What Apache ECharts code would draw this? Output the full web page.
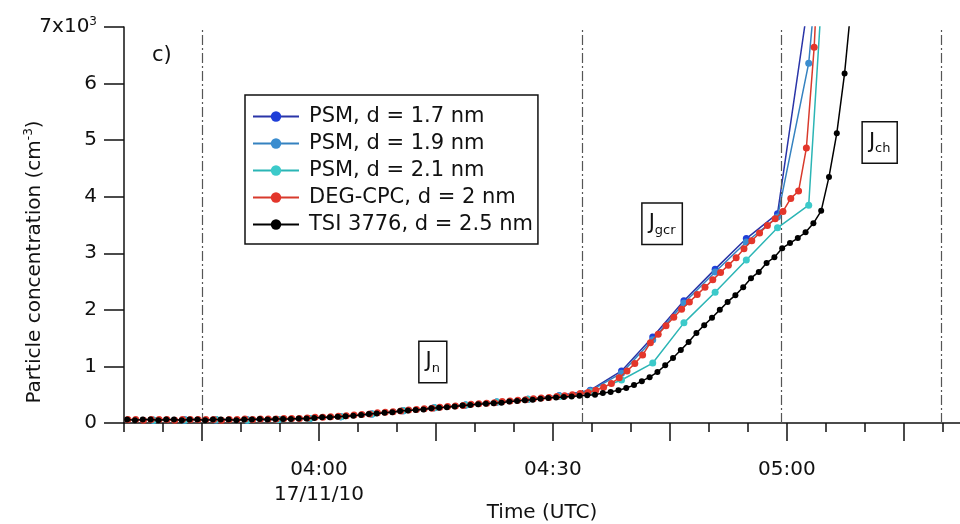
<!DOCTYPE html>
<html><head><meta charset="utf-8">
<script src="https://cdn.jsdelivr.net/npm/echarts@6/dist/echarts.min.js"></script>
<style>html,body{margin:0;padding:0;background:#fff}#c{width:960px;height:524px}</style>
</head><body><div id="c"></div>
<script>
// Times are minutes after 00:00 UTC on 17/11/10; concentrations are in 10^3 cm^-3
const seriesNames = ['PSM, d = 1.7 nm', 'PSM, d = 1.9 nm', 'PSM, d = 2.1 nm', 'DEG-CPC, d = 2 nm', 'TSI 3776, d = 2.5 nm'];

const psmStart = 218.8, psmStep = 4;
const psm17 = [0.05,0.05,0.06,0.05,0.06,0.08,0.11,0.16,0.22,0.27,0.32,0.37,0.42,0.48,0.58,0.92,1.52,2.16,2.72,3.26,3.70,7.5,11.0];
const psm19 = [0.05,0.06,0.05,0.06,0.06,0.08,0.11,0.16,0.21,0.27,0.32,0.37,0.42,0.48,0.57,0.88,1.47,2.12,2.67,3.20,3.64,6.36,12.5];
const psm21 = [0.05,0.05,0.06,0.05,0.06,0.08,0.11,0.16,0.22,0.27,0.32,0.37,0.42,0.47,0.55,0.76,1.06,1.77,2.31,2.88,3.45,3.85,12.7];

const degStart = 215.5, degStep = 1;
const degCpc = [
  0.06,0.06,0.05,0.06,0.06,0.06,0.05,0.06,0.06,0.06,
  0.06,0.06,0.05,0.06,0.06,0.07,0.06,0.07,0.07,0.07,
  0.08,0.08,0.08,0.09,0.10,0.10,0.11,0.12,0.13,0.14,
  0.15,0.16,0.18,0.19,0.20,0.21,0.23,0.24,0.25,0.26,
  0.28,0.29,0.30,0.31,0.33,0.34,0.35,0.36,0.38,0.39,
  0.40,0.41,0.43,0.44,0.45,0.47,0.48,0.50,0.52,0.54,
  0.58,0.63,0.70,0.80,0.92,1.05,1.20,1.42,1.57,1.72,
  1.87,2.01,2.14,2.27,2.40,2.53,2.66,2.79,2.92,3.08,
  3.22,3.36,3.49,3.61,3.74,3.97,4.10,4.86,6.64,9.5
];

const tsiStart = 215.4, tsiStep = 1;
const tsi3776 = [
  0.06,0.05,0.06,0.06,0.05,0.06,0.06,0.05,0.06,0.06,
  0.05,0.06,0.06,0.06,0.05,0.06,0.06,0.07,0.06,0.07,
  0.07,0.07,0.08,0.08,0.09,0.10,0.10,0.11,0.12,0.13,
  0.14,0.16,0.17,0.18,0.19,0.21,0.22,0.23,0.24,0.26,
  0.27,0.28,0.29,0.31,0.32,0.33,0.34,0.35,0.36,0.38,
  0.39,0.40,0.41,0.43,0.44,0.45,0.46,0.47,0.48,0.49,
  0.50,0.53,0.55,0.58,0.62,0.67,0.74,0.81,0.90,1.02,
  1.15,1.29,1.43,1.59,1.73,1.86,2.00,2.14,2.26,2.40,
  2.56,2.67,2.83,2.93,3.09,3.18,3.27,3.37,3.53,3.75,
  4.35,5.12,6.18,7.6
];

// vertical dashed separators (minutes)
const phaseLines = [225, 273.7, 299.3, 319.8];
// annotations: text, time, value
const annoText = ['J{sub|n}', 'J{sub|gcr}', 'J{sub|ch}'];
const annoTime = [254.6, 284.0, 311.9];
const annoVal = [1.08, 3.52, 4.96];

// axis ticks
const xMin = 215, xMax = 322.2;
const xMinorTicks = [215,220,225,230,235,240,245,250,255,260,265,270,275,280,285,290,295,300,305,310,315,320];
const xMajorTicks = [225,240,255,270,285,300,315];
const xLabelValues = [240,270,300];
const xLabelTexts = ['04:00\n17/11/10','04:30','05:00'];
const yTicks = [0,1,2,3,4,5,6,7];
const yLabelTexts = ['0','1','2','3','4','5','6','7x10{sup|3}'];

const colors = ['#1f3fd8','#3b8dcf','#3ccaca','#e3362b','#000000'];
const lineColors = ['#2a35a8','#3582c0','#2bb5b5','#d83a2c','#000000'];
const sizes = [7,7,7,7,6];

const FONT = 'DejaVu Sans, Liberation Sans, sans-serif';
const chart = echarts.init(document.getElementById('c'));

function mk(i, t0, step, vals) {
  return {
    name: seriesNames[i], type: 'line',
    data: vals.map((v, k) => [t0 + k * step, v]),
    symbol: 'circle', symbolSize: sizes[i], showSymbol: true,
    itemStyle: { color: colors[i] },
    lineStyle: { color: lineColors[i], width: 1.5 },
    clip: true, z: 3 + i, animation: false
  };
}

const series = [
  mk(0, psmStart, psmStep, psm17),
  mk(1, psmStart, psmStep, psm19),
  mk(2, psmStart, psmStep, psm21),
  mk(3, degStart, degStep, degCpc),
  mk(4, tsiStart, tsiStep, tsi3776)
];
series[4].markLine = {
  silent: true, symbol: ['none', 'none'], animation: false,
  label: { show: false },
  lineStyle: { color: '#555', width: 1.2, type: [10, 3, 2, 3] },
  data: phaseLines.map(v => ({ xAxis: v }))
};
series[4].markPoint = {
  silent: true, animation: false, symbol: 'rect', symbolSize: 0,
  data: annoText.map((t, i) => ({ coord: [annoTime[i], annoVal[i]], value: t })),
  label: {
    show: true, position: 'inside', formatter: p => p.value,
    color: '#111', fontFamily: FONT, fontSize: 21, lineHeight: 26,
    backgroundColor: '#fff', borderColor: '#111', borderWidth: 1.5,
    padding: [7, 6, 7, 6],
    rich: { sub: { fontSize: 13, lineHeight: 13, verticalAlign: 'bottom', fontFamily: FONT, color: '#111' } }
  }
};

const option = {
  animation: false,
  backgroundColor: '#fff',
  grid: { left: 124, right: 0, top: 27, bottom: 101, containLabel: false, outerBoundsMode: 'none' },
  legend: {
    orient: 'vertical', left: 245, top: 95,
    data: seriesNames,
    itemWidth: 46, itemHeight: 13, itemGap: 6,
    padding: [11, 5, 9, 7],
    borderColor: '#111', borderWidth: 1.5, backgroundColor: '#fff',
    textStyle: { fontFamily: FONT, fontSize: 21, lineHeight: 21, color: '#111', padding: [0, 0, 0, 5] },
    selectedMode: false
  },
  xAxis: [{
    type: 'value', min: xMin, max: xMax,
    name: 'Time (UTC)', nameLocation: 'middle', nameGap: 80, nameMoveOverlap: false,
    nameTextStyle: { fontFamily: FONT, fontSize: 20, color: '#111' },
    axisLine: { show: true, onZero: false, lineStyle: { color: '#111', width: 1.5 } },
    axisTick: { show: true, customValues: xMinorTicks, length: 9, lineStyle: { color: '#111', width: 1.5 } },
    axisLabel: {
      customValues: xLabelValues, margin: 34, lineHeight: 25,
      fontFamily: FONT, fontSize: 20, color: '#111',
      formatter: v => { const i = xLabelValues.indexOf(Math.round(v)); return i >= 0 ? xLabelTexts[i] : ''; }
    },
    splitLine: { show: false }
  }, {
    type: 'value', min: xMin, max: xMax, position: 'bottom',
    axisLine: { show: false },
    axisTick: { show: true, customValues: xMajorTicks, length: 18, lineStyle: { color: '#111', width: 1.5 } },
    axisLabel: { show: false },
    splitLine: { show: false }
  }],
  yAxis: {
    type: 'value', min: 0, max: 7,
    name: 'Particle concentration (cm{sup|-3})',
    nameLocation: 'middle', nameGap: 77, nameRotate: 90, nameMoveOverlap: false,
    nameTextStyle: {
      fontFamily: FONT, fontSize: 20, color: '#111', lineHeight: 24,
      padding: [0, 74, 0, 0],
      rich: { sup: { fontSize: 12, lineHeight: 12, verticalAlign: 'top', fontFamily: FONT, color: '#111' } }
    },
    axisLine: { show: true, onZero: false, lineStyle: { color: '#111', width: 1.5 } },
    axisTick: { show: true, customValues: yTicks, length: 20, lineStyle: { color: '#111', width: 1.5 } },
    axisLabel: {
      customValues: yTicks, margin: 27, fontFamily: FONT, fontSize: 20, color: '#111', lineHeight: 22,
      formatter: v => { const i = yTicks.indexOf(Math.round(v)); return i >= 0 ? yLabelTexts[i] : ''; },
      rich: { sup: { fontSize: 12, lineHeight: 12, verticalAlign: 'top', fontFamily: FONT, color: '#111' } }
    },
    splitLine: { show: false }
  },
  graphic: [{
    type: 'text', left: 152, top: 45,
    style: { text: 'c)', fontFamily: FONT, fontSize: 21, fill: '#111' }
  }],
  series
};
chart.setOption(option);
</script></body></html>
